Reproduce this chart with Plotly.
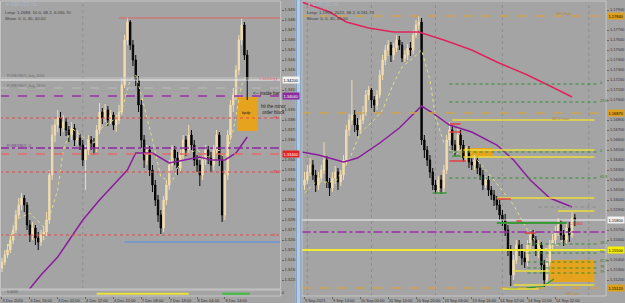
import plotly.graph_objects as go

# ======================= DATA =======================
# ---- left chart (H1 candles) ----
L_open = [1.3232,1.3238,1.3245,1.3250,1.3260,1.3270,1.3285,1.3295,1.3302,1.3295,
          1.3275,1.3265,1.3272,1.3262,1.3258,1.3265,1.3268,1.3280,1.3325,1.3365,
          1.3375,1.3382,1.3372,1.3378,1.3370,1.3365,1.3372,1.3360,1.3362,1.3355,
          1.3340,1.3350,1.3360,1.3357,1.3352,1.3370,1.3388,1.3382,1.3390,1.3380,
          1.3385,1.3375,1.3380,1.3388,1.3415,1.3460,1.3478,1.3455,1.3440,1.3420,
          1.3395,1.3360,1.3340,1.3350,1.3330,1.3315,1.3300,1.3285,1.3272,1.3300,
          1.3315,1.3335,1.3350,1.3342,1.3332,1.3345,1.3360,1.3350,1.3365,1.3355,
          1.3340,1.3335,1.3325,1.3340,1.3350,1.3342,1.3335,1.3350,1.3365,1.3340,
          1.3285,1.3325,1.3365,1.3395,1.3405,1.3430,1.3460,1.3475,1.3445]
L_high = [1.3242,1.3250,1.3256,1.3264,1.3275,1.3290,1.3302,1.3307,1.3305,1.3298,
          1.3280,1.3278,1.3275,1.3268,1.3270,1.3274,1.3288,1.3330,1.3375,1.3382,
          1.3390,1.3388,1.3385,1.3382,1.3374,1.3378,1.3376,1.3370,1.3366,1.3360,
          1.3355,1.3365,1.3364,1.3362,1.3375,1.3397,1.3392,1.3396,1.3394,1.3390,
          1.3388,1.3385,1.3395,1.3422,1.3465,1.3483,1.3480,1.3460,1.3445,1.3424,
          1.3400,1.3365,1.3355,1.3354,1.3335,1.3320,1.3305,1.3290,1.3304,1.3320,
          1.3340,1.3355,1.3354,1.3348,1.3350,1.3365,1.3364,1.3375,1.3370,1.3360,
          1.3345,1.3340,1.3344,1.3355,1.3354,1.3348,1.3355,1.3370,1.3368,1.3345,
          1.3330,1.3370,1.3400,1.3412,1.3435,1.3465,1.3482,1.3478,1.3450]
L_low = [1.3228,1.3235,1.3242,1.3247,1.3256,1.3267,1.3282,1.3290,1.3288,1.3270,
         1.3258,1.3260,1.3255,1.3250,1.3254,1.3260,1.3264,1.3276,1.3320,1.3358,
         1.3368,1.3364,1.3368,1.3364,1.3358,1.3360,1.3354,1.3355,1.3350,1.3334,
         1.3310,1.3345,1.3350,1.3345,1.3348,1.3366,1.3376,1.3378,1.3374,1.3376,
         1.3370,1.3368,1.3376,1.3385,1.3412,1.3455,1.3450,1.3434,1.3414,1.3388,
         1.3352,1.3332,1.3335,1.3324,1.3308,1.3294,1.3278,1.3266,1.3268,1.3295,
         1.3310,1.3330,1.3335,1.3325,1.3328,1.3340,1.3344,1.3346,1.3350,1.3334,
         1.3328,1.3314,1.3320,1.3335,1.3336,1.3328,1.3330,1.3345,1.3334,1.3278,
         1.3280,1.3320,1.3360,1.3388,1.3400,1.3425,1.3455,1.3440,1.3400]
L_close = [1.3238,1.3245,1.3250,1.3260,1.3270,1.3285,1.3295,1.3302,1.3295,1.3275,
           1.3265,1.3272,1.3262,1.3258,1.3265,1.3268,1.3280,1.3325,1.3365,1.3375,
           1.3382,1.3372,1.3378,1.3370,1.3365,1.3372,1.3360,1.3362,1.3355,1.3340,
           1.3350,1.3360,1.3357,1.3352,1.3370,1.3388,1.3382,1.3390,1.3380,1.3385,
           1.3375,1.3380,1.3388,1.3415,1.3460,1.3478,1.3455,1.3440,1.3420,1.3395,
           1.3360,1.3340,1.3350,1.3330,1.3315,1.3300,1.3285,1.3272,1.3300,1.3315,
           1.3335,1.3350,1.3342,1.3332,1.3345,1.3360,1.3350,1.3365,1.3355,1.3340,
           1.3335,1.3325,1.3340,1.3350,1.3342,1.3335,1.3350,1.3365,1.3340,1.3285,
           1.3325,1.3365,1.3395,1.3405,1.3430,1.3460,1.3475,1.3445,1.3420]
L_tick_idx = [0, 10, 20, 30, 40, 50, 60, 70, 80]
L_tick_text = ["3 Dec 2020", "3 Dec 16:00", "4 Dec 02:00", "4 Dec 12:00", "4 Dec 22:00",
               "7 Dec 08:00", "7 Dec 18:00", "8 Dec 04:00", "8 Dec 14:00"]
# price-scale labels (those hidden under the axis tags are left out)
L_price_ticks = [1.322, 1.323, 1.324, 1.325, 1.326, 1.327, 1.328, 1.329, 1.330, 1.331,
                 1.332, 1.333, 1.334, 1.336, 1.337, 1.338, 1.339, 1.341, 1.343,
                 1.344, 1.345, 1.346, 1.347, 1.348, 1.349]
L_ma_slow_idx = [9, 14, 20, 29, 35, 45, 48, 50, 54, 60, 66, 71, 75, 80, 84, 88]
L_ma_slow = [1.3208, 1.3225, 1.3243, 1.3280, 1.3300, 1.3330, 1.3347, 1.3347, 1.3347,
             1.3337, 1.3340, 1.3343, 1.3340, 1.3340, 1.3347, 1.3363]
L_ma_fast_idx = [1, 5, 10, 15, 17, 20, 22, 25, 29, 33, 36, 40, 43, 46, 48, 50, 54, 57,
                 61, 65, 70, 74, 78, 80, 83, 86, 88]
L_ma_fast = [1.3242, 1.3280, 1.3287, 1.3273, 1.3283, 1.3310, 1.3350, 1.3372, 1.3363,
             1.3357, 1.3373, 1.3380, 1.3390, 1.3420, 1.3425, 1.3405, 1.3360, 1.3323,
             1.3318, 1.3345, 1.3350, 1.3343, 1.3350, 1.3340, 1.3370, 1.3415, 1.3425]
# full-width horizontal levels
L_levels = [1.3422, 1.3420, 1.3412, 1.3404, 1.3382, 1.3352, 1.3346, 1.3328, 1.3265]
# partial levels (start bar index)
L_top_level, L_top_from = 1.3482, 42
L_blue_level, L_blue_from = 1.3258, 44
L_box = (84.3, 91.8, 1.3369, 1.3403)         # bar from, bar to, price low, price high
L_sub_yellow = (34, 67)
L_sub_green = (79, 89)
L_fib_text = ["77", "78", "38.2", "0"]
L_fib_price = [1.3420, 1.3382, 1.3328, 1.3265]
L_tags = [(1.3420, "1.34200"), (1.3404, "1.34040"), (1.3346, "1.33460")]

# ---- right chart (H1 candles) ----
R_open = [1.1615,1.1620,1.1628,1.1635,1.1625,1.1615,1.1622,1.1630,1.1640,1.1618,
          1.1612,1.1622,1.1628,1.1618,1.1625,1.1640,1.1670,1.1680,1.1685,1.1675,
          1.1670,1.1680,1.1688,1.1705,1.1710,1.1700,1.1695,1.1705,1.1725,1.1740,
          1.1750,1.1755,1.1745,1.1752,1.1760,1.1755,1.1742,1.1745,1.1752,1.1750,
          1.1765,1.1775,1.1778,1.1660,1.1650,1.1640,1.1628,1.1615,1.1610,1.1620,
          1.1612,1.1630,1.1660,1.1670,1.1655,1.1650,1.1665,1.1655,1.1642,1.1650,
          1.1638,1.1635,1.1640,1.1632,1.1625,1.1615,1.1620,1.1610,1.1605,1.1600,
          1.1595,1.1585,1.1580,1.1570,1.1550,1.1525,1.1540,1.1555,1.1550,1.1542,
          1.1538,1.1555,1.1565,1.1560,1.1550,1.1555,1.1535,1.1520,1.1538,1.1555,
          1.1560,1.1568,1.1575,1.1565,1.1560,1.1572,1.1565,1.1582]
R_high = [1.1628,1.1635,1.1642,1.1640,1.1630,1.1628,1.1635,1.1658,1.1644,1.1622,
          1.1628,1.1634,1.1632,1.1630,1.1645,1.1675,1.1686,1.1720,1.1690,1.1682,
          1.1685,1.1694,1.1710,1.1714,1.1712,1.1704,1.1710,1.1730,1.1745,1.1755,
          1.1760,1.1758,1.1757,1.1765,1.1764,1.1758,1.1750,1.1756,1.1758,1.1770,
          1.1780,1.1784,1.1782,1.1665,1.1654,1.1645,1.1632,1.1620,1.1624,1.1625,
          1.1635,1.1665,1.1678,1.1674,1.1660,1.1672,1.1670,1.1660,1.1654,1.1654,
          1.1642,1.1645,1.1644,1.1636,1.1630,1.1624,1.1624,1.1614,1.1610,1.1604,
          1.1600,1.1590,1.1586,1.1575,1.1555,1.1545,1.1560,1.1560,1.1556,1.1548,
          1.1560,1.1570,1.1570,1.1564,1.1560,1.1558,1.1540,1.1542,1.1560,1.1566,
          1.1574,1.1582,1.1580,1.1570,1.1576,1.1578,1.1588,1.1586]
R_low = [1.1610,1.1616,1.1624,1.1620,1.1608,1.1610,1.1618,1.1626,1.1612,1.1604,
         1.1608,1.1616,1.1610,1.1614,1.1620,1.1636,1.1664,1.1675,1.1668,1.1664,
         1.1666,1.1676,1.1684,1.1700,1.1692,1.1688,1.1690,1.1702,1.1720,1.1735,
         1.1744,1.1738,1.1740,1.1748,1.1750,1.1738,1.1738,1.1740,1.1744,1.1746,
         1.1762,1.1770,1.1655,1.1642,1.1634,1.1622,1.1610,1.1606,1.1607,1.1606,
         1.1608,1.1626,1.1654,1.1650,1.1644,1.1646,1.1650,1.1638,1.1638,1.1632,
         1.1630,1.1630,1.1626,1.1620,1.1610,1.1612,1.1604,1.1600,1.1594,1.1590,
         1.1580,1.1574,1.1564,1.1544,1.1514,1.1520,1.1536,1.1544,1.1535,1.1532,
         1.1534,1.1550,1.1554,1.1544,1.1542,1.1530,1.1513,1.1516,1.1534,1.1550,
         1.1556,1.1564,1.1560,1.1554,1.1556,1.1558,1.1562,1.1574]
R_close = [1.1620,1.1628,1.1635,1.1625,1.1615,1.1622,1.1630,1.1640,1.1618,1.1612,
           1.1622,1.1628,1.1618,1.1625,1.1640,1.1670,1.1680,1.1685,1.1675,1.1670,
           1.1680,1.1688,1.1705,1.1710,1.1700,1.1695,1.1705,1.1725,1.1740,1.1750,
           1.1755,1.1745,1.1752,1.1760,1.1755,1.1742,1.1745,1.1752,1.1750,1.1765,
           1.1775,1.1778,1.1660,1.1650,1.1640,1.1628,1.1615,1.1610,1.1620,1.1612,
           1.1630,1.1660,1.1670,1.1655,1.1650,1.1665,1.1655,1.1642,1.1650,1.1638,
           1.1635,1.1640,1.1632,1.1625,1.1615,1.1620,1.1610,1.1605,1.1600,1.1595,
           1.1585,1.1580,1.1570,1.1550,1.1525,1.1540,1.1555,1.1550,1.1542,1.1538,
           1.1555,1.1565,1.1560,1.1550,1.1555,1.1535,1.1520,1.1538,1.1555,1.1560,
           1.1568,1.1575,1.1565,1.1560,1.1572,1.1565,1.1582,1.1580]
R_tick_idx = [0, 10, 20, 30, 40, 50, 60, 70, 80, 90]
R_tick_text = ["9 Sep 2021", "9 Sep 14:00", "10 Sep 00:00", "10 Sep 10:00", "10 Sep 20:00",
               "13 Sep 06:00", "13 Sep 16:00", "14 Sep 02:00", "14 Sep 12:00", "14 Sep 22:00"]
R_price_ticks = [1.152, 1.153, 1.154, 1.156, 1.157, 1.159, 1.160, 1.161, 1.162, 1.163,
                 1.164, 1.165, 1.166, 1.167, 1.168, 1.170, 1.171, 1.172, 1.173, 1.174,
                 1.175, 1.176, 1.177, 1.179]
R_ma_slow_idx = [-1, 9, 15, 23, 32, 41, 50, 60, 69, 80, 91, 96]
R_ma_slow = [1.1798, 1.1788, 1.1778, 1.1772, 1.1768, 1.1768, 1.1760, 1.1750, 1.1738,
             1.1725, 1.1710, 1.1703]
R_ma_mid_idx = [-1, 5, 14, 19, 27, 34, 42, 46, 52, 60, 69, 75, 81, 88, 96]
R_ma_mid = [1.1648, 1.1645, 1.1638, 1.1642, 1.1657, 1.1672, 1.1694, 1.1687, 1.1675,
            1.1668, 1.1655, 1.1640, 1.1620, 1.1602, 1.1593]
R_ma_fast_idx = [0, 4, 11, 16, 20, 25, 28, 32, 35, 39, 42, 45, 47, 50, 53, 58, 62, 68,
                 75, 80, 85, 91, 96]
R_ma_fast = [1.1607, 1.1618, 1.1618, 1.1640, 1.1667, 1.1680, 1.1690, 1.1717, 1.1733,
             1.1742, 1.1750, 1.1720, 1.1683, 1.1657, 1.1647, 1.1652, 1.1640, 1.1620,
             1.1595, 1.1570, 1.1550, 1.1555, 1.1570]
R_mr_levels = [1.1784, 1.1687, 1.1512]
R_mr_text = ["MR High", "MR1 Low", "MR Low"]
R_mr_text_pos = [(93, 1.1787), (92, 1.1682), (96, 1.1507)]
R_bid, R_pivot, R_yellow_main = 1.1580, 1.1568, 1.1550
R_yel_levels = [1.1680, 1.1650, 1.1643, 1.1602, 1.1589, 1.1529, 1.1515, 1.1511]
R_yel_from = [53, 57, 57, 69, 91, 75, 75, 71]
R_yel_to = [104, 104, 104, 104, 104, 88, 104, 84]
R_fib_levels = [1.1716, 1.1698, 1.1648, 1.1622, 1.1556, 1.1547, 1.1538, 1.1532, 1.1527]
R_fib_from = [52, 52, 52, 52, 80, 80, 80, 80, 80]
R_fib_text = ["0", "23.6", "0", "61.8", "38.2", "50", "61.8", "78", "79"]
R_gray_level, R_gray_from = 1.1593, 84
R_green_zone = (69, 94, 1.1577)
R_green_short = [(46, 51, 1.1607), (53, 56, 1.1644)]
R_red_short = [(52, 56, 1.1676), (52, 56, 1.1668), (52, 58, 1.1639), (69, 74, 1.1601),
               (76, 78, 1.1579), (79, 83, 1.1567)]
R_trend_idx = [72, 85, 89.5]
R_trend_px = [1.1511, 1.1513, 1.1521]
R_box_big = (88, 104, 1.1518, 1.1540)
R_box_small = (56, 67.5, 1.1643, 1.1652)
R_tags = [(1.1784, "1.17840", "#DDA11E", "#000"), (1.1687, "1.16870", "#DDA11E", "#000"),
          (1.1580, "1.15800", "#F2F2F2", "#000"), (1.1550, "1.15500", "#F4F000", "#000"),
          (1.1512, "1.15120", "#DDA11E", "#000")]
R_grid_idx = [1, 24, 47, 71, 102]
L_grid_idx = [29]

# ======================= FIGURE =======================
BG = "#A4A4A4"
INC = "#F2DCAF"
DEC = "#050505"
FONT = "Liberation Sans"

fig = go.Figure()

def candles(o, h, l, c, xa, ya):
    return go.Candlestick(x=list(range(len(o))), open=o, high=h, low=l, close=c,
                          xaxis=xa, yaxis=ya, whiskerwidth=0,
                          increasing=dict(line=dict(color=INC, width=1), fillcolor=INC),
                          decreasing=dict(line=dict(color=DEC, width=1), fillcolor=DEC),
                          showlegend=False, hoverinfo="skip")

def line(x, y, xa, ya, color, width=1.5, dash="solid"):
    return go.Scatter(x=x, y=y, mode="lines", xaxis=xa, yaxis=ya, showlegend=False,
                      hoverinfo="skip", line=dict(color=color, width=width, dash=dash))

fig.add_trace(candles(L_open, L_high, L_low, L_close, "x", "y"))
fig.add_trace(line(L_ma_fast_idx, L_ma_fast, "x", "y", "#E2DE86", 1, "dot"))
fig.add_trace(line(L_ma_slow_idx, L_ma_slow, "x", "y", "#8C1C9E", 1.5))

fig.add_trace(candles(R_open, R_high, R_low, R_close, "x2", "y2"))
fig.add_trace(line(R_ma_fast_idx, R_ma_fast, "x2", "y2", "#E2DE86", 1, "dot"))
fig.add_trace(line(R_ma_slow_idx, R_ma_slow, "x2", "y2", "#E0245C", 1.5))
fig.add_trace(line(R_ma_mid_idx, R_ma_mid, "x2", "y2", "#8C1C9E", 1.5))
fig.add_trace(line(R_trend_idx, R_trend_px, "x2", "y2", "#2E9A2E", 1.3))

shapes = []
def hl(xr, yr, x0, x1, y, color, width=1, dash="solid", layer="above"):
    shapes.append(dict(type="line", xref=xr, yref=yr, x0=x0, x1=x1, y0=y, y1=y,
                       line=dict(color=color, width=width, dash=dash), layer=layer))
def full(xr, yr, y, color, width=1, dash="solid"):
    hl(xr + " domain", yr, 0, 1, y, color, width, dash)
def box(xr, yr, x0, x1, y0, y1, color):
    shapes.append(dict(type="rect", xref=xr, yref=yr, x0=x0, x1=x1, y0=y0, y1=y1,
                       fillcolor=color, line=dict(width=0), layer="below"))
def vgrid(xr, yr, x):
    shapes.append(dict(type="line", xref=xr, yref=yr + " domain", x0=x, x1=x, y0=0, y1=1,
                       line=dict(color="#8E8E8E", width=1, dash="dot"), layer="below"))

# left chart objects
for g in L_grid_idx:
    vgrid("x", "y", g)
box("x", "y", L_box[0], L_box[1], L_box[2], L_box[3], "#E6A31D")
L_styles = [("#C2C2C2", 1, "solid"), ("#F4F4F4", 1, "solid"), ("#BBBBBB", 1, "dash"),
            ("#9A2CAA", 1.5, "dash"), ("#E24848", 1, "dot"), ("#8C2A9E", 1.5, "dashdot"),
            ("#E36A6A", 1.5, "dash"), ("#E24848", 1, "dot"), ("#E24848", 1, "dot")]
for lv, (c, w, d) in zip(L_levels, L_styles):
    full("x", "y", lv, c, w, d)
hl("x", "y", L_top_from, 100, L_top_level, "#E36060", 1.2)
hl("x", "y", L_blue_from, 100, L_blue_level, "#4E8CE8", 1.2)
# indicator sub-window bars
box("x", "y3", L_sub_yellow[0], L_sub_yellow[1], 0.2, 0.55, "#E8E23A")
box("x", "y3", L_sub_green[0], L_sub_green[1], 0.2, 0.55, "#3FBF3F")

# right chart objects
for g in R_grid_idx:
    vgrid("x2", "y2", g)
box("x2", "y2", R_box_big[0], R_box_big[1], R_box_big[2], R_box_big[3], "#E6A31D")
box("x2", "y2", R_box_small[0], R_box_small[1], R_box_small[2], R_box_small[3], "#E6A31D")
for lv in R_mr_levels:
    full("x2", "y2", lv, "#CFA24E", 1.3, "dash")
full("x2", "y2", R_bid, "#F4F4F4", 1)
full("x2", "y2", R_pivot, "#9A2CAA", 1.3, "dashdot")
full("x2", "y2", R_yellow_main, "#F2EC2E", 2)
for lv, a, b in zip(R_yel_levels, R_yel_from, R_yel_to):
    hl("x2", "y2", a, b, lv, "#EEDC3A", 1.5)
for lv, a in zip(R_fib_levels, R_fib_from):
    hl("x2", "y2", a, 105, lv, "#2F8F2F", 1, "dot")
hl("x2", "y2", R_gray_from, 105, R_gray_level, "#8A8A8A", 1, "dot")
hl("x2", "y2", R_green_zone[0], R_green_zone[1], R_green_zone[2], "#3A9A3A", 2)
for a, b, lv in R_green_short:
    hl("x2", "y2", a, b, lv, "#3A9A3A", 1.5)
for a, b, lv in R_red_short:
    hl("x2", "y2", a, b, lv, "#E04040", 1.5)

# frames & divider (paper coords)
FR = "#C6C6C6"
def prect(x0, y0, x1, y1, fill=None, lc=FR, lw=1):
    shapes.append(dict(type="rect", xref="paper", yref="paper", x0=x0 / 625, x1=x1 / 625,
                       y0=1 - y1 / 303, y1=1 - y0 / 303, fillcolor=fill or "rgba(0,0,0,0)",
                       line=dict(color=lc, width=lw), layer="above"))
prect(0.5, 1, 282, 289)
prect(0.5, 290, 282, 296)
prect(303.5, 1, 609, 296)
prect(297, 0, 303, 303, fill="#BFC9D4", lc="#BFC9D4", lw=0)
for xv in (297.8, 302.2):
    shapes.append(dict(type="line", xref="paper", yref="paper", x0=xv / 625, x1=xv / 625,
                       y0=0, y1=1, line=dict(color="#7BA3CF", width=1.2)))

ann = []
def txt(x, y, s, xr="paper", yr="paper", color="#3A3A3A", size=4.5, xanchor="left", bg=None):
    d = dict(x=x, y=y, xref=xr, yref=yr, text=s, showarrow=False, xanchor=xanchor,
             yanchor="middle", font=dict(size=size, color=color, family=FONT))
    if bg:
        d.update(bgcolor=bg, borderpad=0.5)
    ann.append(d)

# header texts
txt(3 / 625, 1 - 4 / 303, "▼ GBPUSD,H1", color="#A9B9CB", size=4.5)
txt(3 / 625, 1 - 13 / 303, "Lenp: 1.2688, 10.0, 68.2, 6:265.70", size=4.3)
txt(3 / 625, 1 - 18 / 303, "Show: 0, 0, 40, 40.00", size=4.3)
txt(306 / 625, 1 - 4 / 303, "▼ EURUSD,H1", color="#A9B9CB", size=4.5)
txt(306 / 625, 1 - 13 / 303, "Lenp: 1.1955, 2022, 68.2, 6:181.73", size=4.3)
txt(306 / 625, 1 - 18 / 303, "Show: 0, 0, 40, 40.00", size=4.3)
# left chart notes
txt(1, 1.3424, "FOREXBUY_buy_0000", "x", "y", color="#6E6E6E", size=3.6)
txt(1, 1.3414, "FOREXBUY_buy_18.50", "x", "y", color="#6E6E6E", size=3.6)
txt(1, 1.3354, "FOREXBUY_0", "x", "y", color="#7A3F8A", size=3.6)
txt(89.3, 1.3407, "<-- inside bar", "x", "y", color="#1E1E1E", size=4.5)
txt(92.3, 1.3391, "hit the minor<br>order block", "x", "y", color="#1E1E1E", size=4.5)
txt(87.7, 1.3387, "bpdp", "x", "y", color="#1E1E1E", size=3.8, xanchor="center")
txt(91.4, 1.3421, "1.34200", "x", "y", color="#E46A6A", size=3.8)
for s, p in zip(L_fib_text, L_fib_price):
    txt(96.4, p + 0.0001, s, "x", "y", color="#E03434", size=4)
txt(1, 1 - 292 / 303, "0.0000", "x", "paper", color="#555", size=3.5)
# right chart notes
for s, (xi, p) in zip(R_mr_text, R_mr_text_pos):
    txt(xi, p, s, "x2", "y2", color="#B88A3A", size=4, xanchor="center")
for s, p in zip(R_fib_text, R_fib_levels):
    txt(105.2, p + 0.0001, s, "x2", "y2", color="#2F7F2F", size=3.8)
txt(97.5, 1.1576, "1.15800", "x2", "y2", color="#E03434", size=3.8, xanchor="center")
# price tags on axes
tag_cols = {"1.34200": ("#F2F2F2", "#000"), "1.34040": ("#8C2A9E", "#FFF"),
            "1.33460": ("#E02424", "#FFF")}
for p, s in L_tags:
    c = tag_cols[s]
    txt(283 / 625, p, s, "paper", "y", color=c[1], size=4, bg=c[0])
for p, s, bgc, fc in R_tags:
    txt(610 / 625, p, s, "paper", "y2", color=fc, size=4, bg=bgc)

ax_common = dict(showgrid=False, zeroline=False, showline=False, fixedrange=True)
fig.update_layout(
    width=625, height=303, margin=dict(l=0, r=0, t=0, b=0),
    paper_bgcolor=BG, plot_bgcolor=BG, showlegend=False,
    font=dict(family=FONT, size=4, color="#333333"),
    xaxis=dict(domain=[0, 282 / 625], range=[-0.71, 100], anchor="y3",
               tickmode="array", tickvals=L_tick_idx, ticktext=L_tick_text, tickangle=0,
               ticks="outside", ticklen=2, tickcolor="#666", ticklabelposition="outside right",
               tickfont=dict(size=4, color="#333"), rangeslider=dict(visible=False), **ax_common),
    yaxis=dict(domain=[14 / 303, 302 / 303], range=[1.3211, 1.3499], anchor="x", side="right",
               tickmode="array", tickvals=L_price_ticks, tickformat=".5f", ticks="outside",
               ticklen=2, tickcolor="#666", tickfont=dict(size=4, color="#333"), **ax_common),
    yaxis3=dict(domain=[7 / 303, 13 / 303], range=[0, 1], anchor="x", side="right",
                tickvals=[0.5], ticktext=["0"], ticks="", tickfont=dict(size=4, color="#333"),
                **ax_common),
    xaxis2=dict(domain=[303 / 625, 609 / 625], range=[-1.07, 108.2], anchor="y2",
                tickmode="array", tickvals=R_tick_idx, ticktext=R_tick_text, tickangle=0,
                ticks="outside", ticklen=2, tickcolor="#666", ticklabelposition="outside right",
                tickfont=dict(size=4, color="#333"), rangeslider=dict(visible=False), **ax_common),
    yaxis2=dict(domain=[7 / 303, 302 / 303], range=[1.1504, 1.1799], anchor="x2", side="right",
                tickmode="array", tickvals=R_price_ticks, tickformat=".5f", ticks="outside",
                ticklen=2, tickcolor="#666", tickfont=dict(size=4, color="#333"), **ax_common),
    shapes=shapes, annotations=ann,
)

fig.write_html("out.html")
